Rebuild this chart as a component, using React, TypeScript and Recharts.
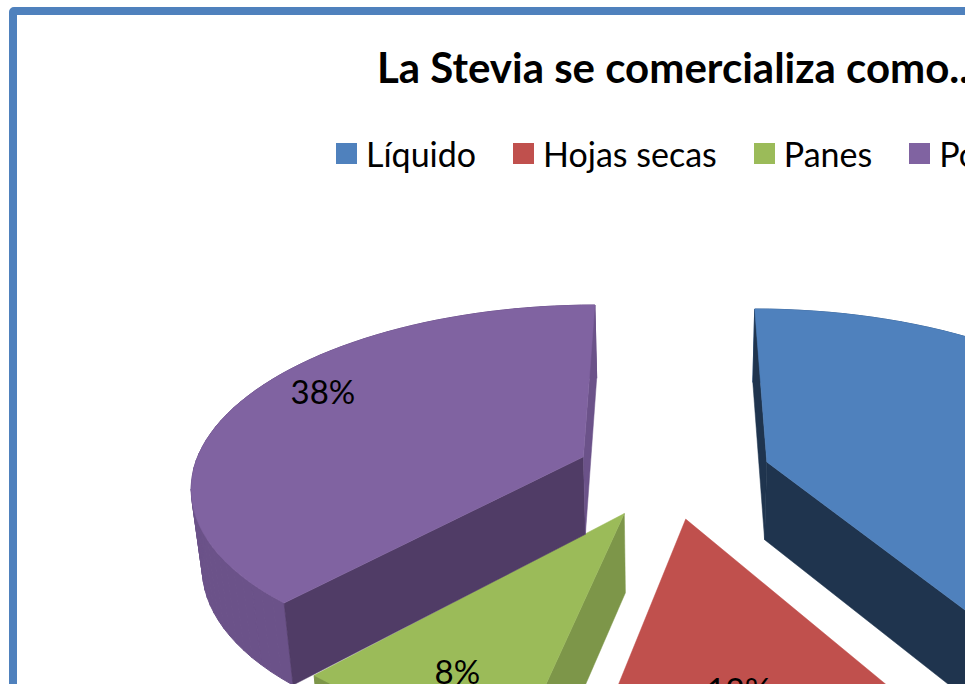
import React from "react";
import { PieChart, Pie, Legend } from "recharts";

const categories = ["Líquido", "Hojas secas", "Panes", "Polvo"];
const shares = [42, 12, 8, 38];

// slice colours: top, rim, first cut face, last cut face
const topColors = ["#4f81bd", "#c0504d", "#9bbb59", "#8063a1"];
const rimColors = ["#3f6797", "#9a403e", "#7d9649", "#6b5289"];
const firstFaceColors = ["#1f344e", "#7d3533", "#7d9649", "#503c66"];
const lastFaceColors = ["#1f344e", "#7d3533", "#7d9649", "#6b5289"];
const labelShift = [0, -1, -3, 7];
const labelRadius = [0.81, 0.78, 0.81, 0.83];

const tableRows = categories.map((name, i) => ({
  name,
  value: shares[i],
  fill: topColors[i],
  rim: rimColors[i],
  firstFace: firstFaceColors[i],
  lastFace: lastFaceColors[i],
  shift: labelShift[i],
  labelR: labelRadius[i],
}));

// fake 3D settings
const CX = 673;
const CY = 432; // legend height gets added by the chart
const RX = 391;
const RY = 179;
const PERSPECTIVE = 0.15;
const EXPLODE = 0.25;
const rad = (d: number) => (d * Math.PI) / 180;
// front edges sit a bit steeper than a plain ellipse, mostly around 190 deg
const warp = (a: number) => a - 3.2 * Math.exp(-((a - 192) ** 2) / (2 * 26 * 26));

type Pt = [number, number];

const project = (cx: number, cy: number, rx: number, r: number, clock: number, mid: number): Pt => {
  const X = r * Math.sin(rad(clock)) + EXPLODE * Math.sin(rad(mid));
  const Y = r * Math.cos(rad(clock)) + EXPLODE * Math.cos(rad(mid));
  const s = 1 / (1 + PERSPECTIVE * Y);
  return [cx + X * rx * s, cy - Y * RY * s * (rx / RX)];
};

const drop = (p: Pt, cx: number): Pt => [cx + (p[0] - cx) * 0.977, p[1] + 73 + (p[1] - 304) * 0.03];
const path = (pts: Pt[]) => "M" + pts.map((p) => `${p[0].toFixed(1)},${p[1].toFixed(1)}`).join("L") + "Z";
const side = (a: Pt, b: Pt, c: Pt) => (b[0] - a[0]) * (c[1] - a[1]) - (b[1] - a[1]) * (c[0] - a[0]);

const Slice3D = (props: any) => {
  const { cx, cy, outerRadius, startAngle, endAngle, fill, rim, firstFace, lastFace } = props;
  const from = 90 - startAngle;
  const to = 90 - endAngle;
  const mid = (from + to) / 2;
  const arc: Pt[] = [];
  for (let i = 0; i <= 60; i++) {
    arc.push(project(cx, cy, outerRadius, 1, warp(from + ((to - from) * i) / 60), mid));
  }
  const apex = project(cx, cy, outerRadius, 0, mid, mid);
  const arcMid = arc[30];
  const lower = (p: Pt) => drop(p, cx);

  const face = (edge: Pt, color: string) => {
    const m: Pt = [(apex[0] + edge[0]) / 2, (apex[1] + edge[1]) / 2];
    const visible = side(apex, edge, lower(m)) * side(apex, edge, arcMid) < 0;
    if (!visible) return null;
    return <path d={path([apex, edge, lower(edge), lower(apex)])} fill={color} stroke={color} strokeWidth={0.5} />;
  };

  // rim as strips so the silhouette runs straight from top to bottom arc
  const strips = arc.slice(1).map((p, i) => (
    <path key={i} d={path([arc[i], p, lower(p), lower(arc[i])])} fill={rim} stroke={rim} strokeWidth={1} />
  ));

  return (
    <g>
      {strips}
      {face(arc[0], firstFace)}
      {face(arc[60], lastFace)}
      <path d={path([apex, ...arc])} fill={fill} stroke={fill} strokeWidth={0.5} />
    </g>
  );
};

const sliceLabel = (props: any) => {
  const { cx, cy, outerRadius, midAngle, value, payload } = props;
  const mid = 90 - midAngle;
  const [x, y] = project(cx, cy, outerRadius, payload.labelR, mid + payload.shift, mid);
  return (
    <text
      x={x}
      y={y}
      fill="#000"
      style={{ fontFamily: "Lato", fontSize: 33 }}
      textAnchor="middle"
      dominantBaseline="central"
    >
      {`${value}%`}
    </text>
  );
};

const legendItems = (props: any) => (
  <div style={{ display: "flex", alignItems: "center", fontFamily: "Lato", fontSize: 34, color: "#000", whiteSpace: "nowrap" }}>
    {props.payload.map((entry: any) => (
      <div key={entry.value} style={{ display: "flex", alignItems: "center", marginRight: 37 }}>
        <span style={{ width: 21, height: 21, background: entry.color, marginRight: 9 }} />
        {entry.value}
      </div>
    ))}
  </div>
);

export default function App() {
  return (
    <div style={{ position: "fixed", left: 0, top: 0, width: 965, height: 684, overflow: "hidden", background: "#fff" }}>
      <div style={{ position: "absolute", left: 9, top: 7, width: 1500, height: 1200, border: "8px solid #4f81bd", borderRadius: 5, boxSizing: "border-box" }} />
      <div style={{ position: "absolute", left: 377, top: 42, fontFamily: "Lato", fontWeight: 700, fontSize: 42, color: "#000", whiteSpace: "nowrap" }}>
        La Stevia se comercializa como..
      </div>
      <div style={{ position: "absolute", left: 0, top: 0 }}>
        <PieChart width={1500} height={1100} margin={{ top: 0, right: 0, bottom: 0, left: 0 }}>
          <Legend
            verticalAlign="top"
            content={legendItems}
            itemSorter={null}
            wrapperStyle={{ left: 336, top: 133, width: 1000 }}
          />
          <Pie
            data={tableRows}
            dataKey="value"
            nameKey="name"
            cx={CX}
            cy={CY}
            outerRadius={RX}
            startAngle={90}
            endAngle={-270}
            stroke="none"
            shape={Slice3D}
            label={sliceLabel}
            labelLine={false}
            isAnimationActive={false}
          />
        </PieChart>
      </div>
    </div>
  );
}
